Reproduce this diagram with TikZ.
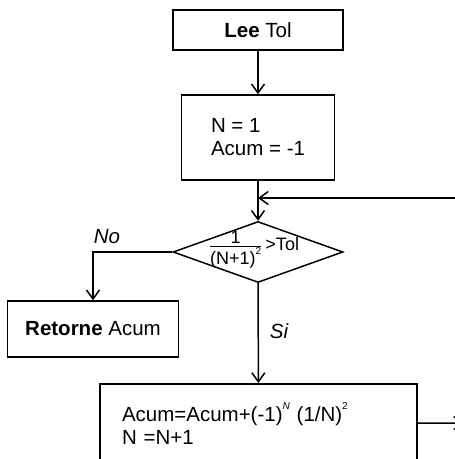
\documentclass[tikz,border=0pt]{standalone}
\usepackage{fontspec}
\setmainfont{Liberation Sans}
\usepackage{amsmath}
\usetikzlibrary{shapes.geometric,arrows.meta}
\newcommand{\smallsup}[1]{\raisebox{1.1ex}{\fontsize{10}{10}\selectfont #1}}

\begin{document}
\begin{tikzpicture}[x=1pt,y=-1pt,line width=1.5pt,
  box/.style={rectangle,draw=black,line width=1.5pt,font=\fontsize{20.5}{23}\selectfont},
  test/.style={diamond,draw=black,line width=1.5pt,inner sep=0pt,minimum width=170pt,minimum height=61pt},
  flow/.style={-{Straight Barb[length=9pt,width=13pt]}},
  cond/.style={font=\fontsize{20.5}{23}\selectfont\itshape}]
\useasboundingbox (0,0) rectangle (455,459);
\clip (0,0) rectangle (455,459);
%Node Coordinates
\node at (258,30) [box,minimum width=170pt,minimum height=40pt] (LeeTol) {\textbf{Lee} Tol};
\node at (258,137.5) [box,minimum width=153pt,minimum height=85pt,align=left] (Init) {N = 1\\Acum = -1};
\node at (258,252) [test] (Test) {};
\node at (254,250) [font=\fontsize{18}{20}\selectfont] (TestText) {$\frac{\mbox{1}}{\mbox{(N+1)\smallsup{2}}}$\,>Tol};
\node at (93,329) [box,minimum width=171pt,minimum height=56pt] (Retorne) {\textbf{Retorne} Acum};
\node at (258.5,383) [box,anchor=north,minimum width=317pt,minimum height=80pt,inner xsep=22pt,text width=273pt,align=left] (Update) {Acum=Acum+(-1)\smallsup{\itshape N} (1/N)\smallsup{2}\\N =N+1};
\coordinate (LoopIn) at (475,198);
\coordinate (Join) at (258,198);
\coordinate (LoopOut) at (464,423);

%Connections
\draw [flow] (LeeTol) -- (Init);
\draw [flow] (Init) -- (Test);
\draw [flow] (LoopIn) -- (Join);
\draw [flow] (Test.west) -| (Retorne.north);
\draw [flow] (Test) -- (Update);
\draw [flow] (Update) -- (LoopOut);

% Edge Labels
\node at (107,237) [cond] (NoLabel) {No};
\node at (279,331) [cond] (SiLabel) {Si};
\end{tikzpicture}
\end{document}
